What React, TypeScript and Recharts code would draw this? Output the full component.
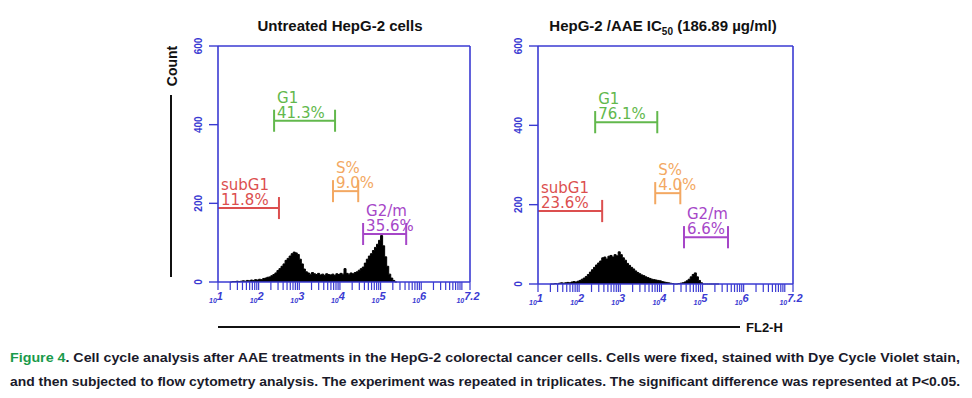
import React from 'react';
import { ComposedChart, Area, XAxis, YAxis, ReferenceLine, ReferenceDot } from 'recharts';

// log10 fluorescence channel (FL2-H) of each histogram bin
const channels = [
  1.30, 1.35, 1.40, 1.45, 1.50, 1.55, 1.60, 1.65, 1.70, 1.75,
  1.80, 1.85, 1.90, 1.95, 2.00, 2.05, 2.10, 2.15, 2.20, 2.25,
  2.30, 2.35, 2.40, 2.45, 2.50, 2.55, 2.60, 2.65, 2.70, 2.75,
  2.80, 2.85, 2.90, 2.95, 3.00, 3.05, 3.10, 3.15, 3.20, 3.25,
  3.30, 3.35, 3.40, 3.45, 3.50, 3.55, 3.60, 3.65, 3.70, 3.75,
  3.80, 3.85, 3.90, 3.95, 4.00, 4.05, 4.10, 4.15, 4.20, 4.25,
  4.30, 4.35, 4.40, 4.45, 4.50, 4.55, 4.60, 4.65, 4.70, 4.75,
  4.80, 4.85, 4.90, 4.95, 5.00, 5.05, 5.10, 5.15, 5.20, 5.25,
  5.30, 5.35, 5.40,
];

const untreatedCounts = [
  0, 1, 1, 2, 1, 2, 3, 2, 4, 3,
  5, 4, 6, 5, 7, 6, 9, 10, 12, 13,
  16, 19, 23, 29, 34, 40, 46, 55, 60, 66,
  72, 76, 74, 70, 58, 46, 33, 26, 23, 20,
  24, 21, 19, 22, 18, 20, 17, 21, 19, 18,
  20, 17, 21, 19, 22, 20, 34, 22, 20, 23,
  21, 24, 26, 30, 34, 38, 48, 58, 66, 72,
  80, 88, 96, 106, 118, 92, 64, 40, 20, 10,
  4, 0, 0,
];

const treatedCounts = [
  0, 0, 1, 0, 2, 3, 2, 3, 4, 3,
  5, 6, 5, 7, 9, 12, 15, 19, 24, 30,
  36, 42, 48, 53, 58, 66, 68, 63, 70, 72,
  68, 74, 71, 81, 74, 66, 60, 52, 47, 42,
  38, 33, 29, 26, 23, 21, 18, 16, 14, 12,
  11, 10, 9, 8, 6, 5, 4, 3, 2, 1,
  0, 0, 1, 2, 3, 5, 8, 12, 18, 24,
  28, 18, 9, 3, 0, 0, 0, 0, 0, 0,
  0, 0, 0,
];

const yTicks = [0, 200, 400, 600];
const majorDecades = [1, 2, 3, 4, 5, 6, 7, 7.2];
const majorLabels = ['1', '2', '3', '4', '5', '6', '', '7.2'];
const minorMultipliers = [2, 3, 4, 5, 6, 7, 8, 9];

const gateNames = ['subG1', 'G1', 'S%', 'G2/m'];
const gateColors = ['#dc4f4f', '#62b84c', '#f3a862', '#a646c8'];

const untreatedGateStart = [1.0, 2.38, 3.83, 4.57];
const untreatedGateEnd = [2.5, 3.88, 4.45, 5.63];
const untreatedGateLevel = [188, 410, 231, 122];
const untreatedGatePct = ['11.8%', '41.3%', '9.0%', '35.6%'];

const treatedGateStart = [1.0, 2.39, 3.85, 4.55];
const treatedGateEnd = [2.56, 3.9, 4.46, 5.62];
const treatedGateLevel = [184, 408, 229, 118];
const treatedGatePct = ['23.6%', '76.1%', '4.0%', '6.6%'];

const BLUE = '#3a3ad2';

const minorTicks: number[] = [];
for (let d = 1; d <= 7; d++) {
  for (const m of minorMultipliers) {
    const v = d + Math.log10(m);
    if (v < 7.2) minorTicks.push(v);
  }
}
const allXTicks = [...majorDecades, ...minorTicks].sort((a, b) => a - b);

const XTick = (props: any) => {
  const { x, y, payload } = props;
  const v = payload.value;
  const idx = majorDecades.findIndex((d) => Math.abs(d - v) < 1e-6);
  return (
    <g>
      <line x1={x} y1={y} x2={x} y2={y + 8} stroke={BLUE} strokeWidth={1.2} />
      {idx >= 0 && majorLabels[idx] !== '' && (
        <text x={x - 2} y={y + 21} textAnchor="middle" fill={BLUE} fontFamily="Liberation Sans, Arial, sans-serif" fontStyle="italic" fontWeight="bold">
          <tspan fontSize={7}>10</tspan>
          <tspan fontSize={11} dy={-3}>{majorLabels[idx]}</tspan>
        </text>
      )}
    </g>
  );
};

const YTick = (props: any) => {
  const { x, y, payload } = props;
  const tx = x - 5;
  return (
    <text x={tx} y={y} transform={`rotate(-90, ${tx}, ${y})`} textAnchor="middle" fill={BLUE} fontSize={10} fontWeight="bold" fontFamily="Liberation Sans, Arial, sans-serif">
      {payload.value}
    </text>
  );
};

type PanelProps = {
  counts: number[];
  starts: number[];
  ends: number[];
  levels: number[];
  pcts: string[];
  width: number;
  height: number;
  right: number;
  xAxisHeight: number;
};

const Panel = ({ counts, starts, ends, levels, pcts, width, height, right, xAxisHeight }: PanelProps) => {
  const data = channels.map((x, i) => ({ x, c: counts[i] }));
  return (
    <ComposedChart width={width} height={height} data={data} margin={{ top: 46, right, left: 0, bottom: 0 }}>
      <XAxis
        type="number"
        dataKey="x"
        domain={[1, 7.2]}
        allowDataOverflow
        ticks={allXTicks}
        interval={0}
        tick={<XTick />}
        tickLine={false}
        tickSize={0}
        tickMargin={0}
        height={xAxisHeight}
        axisLine={{ stroke: BLUE, strokeWidth: 1.6 }}
      />
      <YAxis
        type="number"
        domain={[0, 600]}
        ticks={yTicks}
        interval={0}
        width={58}
        tickSize={9}
        tickMargin={2}
        tickLine={{ stroke: BLUE, strokeWidth: 1.4 }}
        axisLine={{ stroke: BLUE, strokeWidth: 1.6 }}
        tick={<YTick />}
      />
      <ReferenceLine y={600} stroke={BLUE} strokeWidth={1.6} />
      <ReferenceLine x={7.2} stroke={BLUE} strokeWidth={1.6} />
      <Area
        type="stepAfter"
        dataKey="c"
        stroke="#000"
        strokeWidth={1}
        fill="#000"
        fillOpacity={1}
        dot={false}
        activeDot={false}
        isAnimationActive={false}
      />
      {gateNames.map((name, i) => (
        <ReferenceLine
          key={`h${i}`}
          segment={[{ x: starts[i], y: levels[i] }, { x: ends[i], y: levels[i] }]}
          stroke={gateColors[i]}
          strokeWidth={2}
        />
      ))}
      {gateNames.map((name, i) =>
        starts[i] > 1.001 ? (
          <ReferenceLine
            key={`l${i}`}
            segment={[{ x: starts[i], y: levels[i] - 28 }, { x: starts[i], y: levels[i] + 28 }]}
            stroke={gateColors[i]}
            strokeWidth={2}
          />
        ) : null
      )}
      {gateNames.map((name, i) => (
        <ReferenceLine
          key={`r${i}`}
          segment={[{ x: ends[i], y: levels[i] - 28 }, { x: ends[i], y: levels[i] + 28 }]}
          stroke={gateColors[i]}
          strokeWidth={2}
        />
      ))}
      {gateNames.map((name, i) => (
        <ReferenceDot
          key={`t${i}`}
          x={starts[i]}
          y={levels[i]}
          r={0}
          shape={(p: any) => (
            <g>
              <text x={p.cx + 3} y={p.cy - 18} fill={gateColors[i]} fontSize={15} fontFamily="DejaVu Sans, sans-serif">{name}</text>
              <text x={p.cx + 3} y={p.cy - 3} fill={gateColors[i]} fontSize={15} fontFamily="DejaVu Sans, sans-serif">{pcts[i]}</text>
            </g>
          )}
        />
      ))}
    </ComposedChart>
  );
};

export default function App() {
  const font = 'Liberation Sans, Arial, sans-serif';
  return (
    <div style={{ position: 'absolute', left: 0, top: 0, width: 972, height: 398, background: '#fff', overflow: 'hidden' }}>
      <div style={{ position: 'absolute', left: 160, top: 0 }}>
        <Panel counts={untreatedCounts} starts={untreatedGateStart} ends={untreatedGateEnd} levels={untreatedGateLevel} pcts={untreatedGatePct} width={330} height={320} right={20} xAxisHeight={38} />
      </div>
      <div style={{ position: 'absolute', left: 480, top: 0 }}>
        <Panel counts={treatedCounts} starts={treatedGateStart} ends={treatedGateEnd} levels={treatedGateLevel} pcts={treatedGatePct} width={330} height={320} right={17} xAxisHeight={36} />
      </div>
      <svg width={972} height={398} style={{ position: 'absolute', left: 0, top: 0, pointerEvents: 'none' }}>
        <text x={340} y={31} textAnchor="middle" fontFamily={font} fontWeight="bold" fontSize={15} fill="#111">Untreated HepG-2 cells</text>
        <text x={663} y={31} textAnchor="middle" fontFamily={font} fontWeight="bold" fontSize={15} fill="#111">
          HepG-2 /AAE IC<tspan fontSize={10} dy={4}>50</tspan><tspan dy={-4}> (186.89 µg/ml)</tspan>
        </text>
        <text x={177} y={66} transform="rotate(-90, 177, 66)" textAnchor="middle" fontFamily={font} fontWeight="bold" fontSize={14} fill="#111">Count</text>
        <line x1={171} y1={95} x2={171} y2={277} stroke="#111" strokeWidth={2} />
        <line x1={218} y1={327} x2={740} y2={327} stroke="#111" strokeWidth={2} />
        <text x={746} y={332} fontFamily={font} fontWeight="bold" fontSize={13} fill="#111">FL2-H</text>
        <text x={10} y={362} fontFamily={font} fontWeight="bold" fontSize={13} fill="#1a1a2a" textLength={950} lengthAdjust="spacingAndGlyphs">
          <tspan fill="#1a9b4b">Figure 4</tspan>. Cell cycle analysis after AAE treatments in the HepG-2 colorectal cancer cells. Cells were fixed, stained with Dye Cycle Violet stain,
        </text>
        <text x={10} y={386} fontFamily={font} fontWeight="bold" fontSize={13} fill="#1a1a2a" textLength={950} lengthAdjust="spacingAndGlyphs">
          and then subjected to flow cytometry analysis. The experiment was repeated in triplicates. The significant difference was represented at P&lt;0.05.
        </text>
      </svg>
    </div>
  );
}
